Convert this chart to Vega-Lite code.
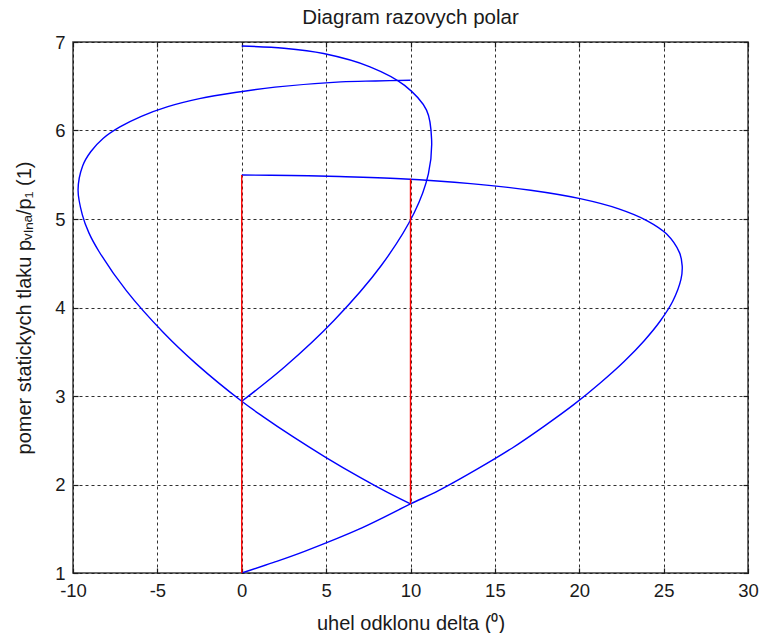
{
  "$schema": "https://vega.github.io/schema/vega-lite/v6.json",
  "width": 675,
  "height": 531,
  "autosize": {"type": "none"},
  "padding": {"left": 73, "top": 42, "right": 11, "bottom": 60},
  "background": "white",
  "config": {
    "font": "Liberation Sans",
    "view": {"stroke": "#3a3a3a", "strokeWidth": 1.5},
    "axis": {
      "labelFont": "Liberation Sans",
      "titleFont": "Liberation Sans",
      "labelColor": "#1a1a1a",
      "titleColor": "#1a1a1a",
      "labelFontSize": 18.5,
      "titleFontSize": 20,
      "titleFontWeight": "normal",
      "labelFlush": false,
      "labelOverlap": false,
      "domain": false,
      "ticks": true,
      "tickSize": -5,
      "tickColor": "#1a1a1a",
      "tickWidth": 1.2,
      "gridColor": "#1a1a1a",
      "gridDash": [3, 3],
      "gridWidth": 1,
      "gridOpacity": 0.9
    }
  },
  "title": {
    "text": "Diagram razovych polar",
    "font": "Liberation Sans",
    "fontSize": 20.5,
    "fontWeight": "normal",
    "color": "#1a1a1a",
    "anchor": "middle",
    "offset": 5
  },
  "data": {
    "values": [
      {"s": "p1", "i": 0, "x": 0, "y": 1},
      {"s": "p1", "i": 1, "x": 1.89, "y": 1.12},
      {"s": "p1", "i": 2, "x": 3.72, "y": 1.245},
      {"s": "p1", "i": 3, "x": 7.12, "y": 1.51},
      {"s": "p1", "i": 4, "x": 10, "y": 1.78},
      {"s": "p1", "i": 5, "x": 11.66, "y": 1.93},
      {"s": "p1", "i": 6, "x": 13.92, "y": 2.17},
      {"s": "p1", "i": 7, "x": 16.01, "y": 2.41},
      {"s": "p1", "i": 8, "x": 17.93, "y": 2.66},
      {"s": "p1", "i": 9, "x": 19.69, "y": 2.905},
      {"s": "p1", "i": 10, "x": 21.26, "y": 3.15},
      {"s": "p1", "i": 11, "x": 22.66, "y": 3.39},
      {"s": "p1", "i": 12, "x": 23.85, "y": 3.625},
      {"s": "p1", "i": 13, "x": 24.81, "y": 3.85},
      {"s": "p1", "i": 14, "x": 25.54, "y": 4.07},
      {"s": "p1", "i": 15, "x": 26.03, "y": 4.32},
      {"s": "p1", "i": 16, "x": 26.1, "y": 4.47},
      {"s": "p1", "i": 17, "x": 25.94, "y": 4.62},
      {"s": "p1", "i": 18, "x": 25.18, "y": 4.83},
      {"s": "p1", "i": 19, "x": 24.03, "y": 4.98},
      {"s": "p1", "i": 20, "x": 22.34, "y": 5.115},
      {"s": "p1", "i": 21, "x": 20.05, "y": 5.23},
      {"s": "p1", "i": 22, "x": 17.12, "y": 5.325},
      {"s": "p1", "i": 23, "x": 13.56, "y": 5.4},
      {"s": "p1", "i": 24, "x": 9.42, "y": 5.455},
      {"s": "p1", "i": 25, "x": 5.78, "y": 5.48},
      {"s": "p1", "i": 26, "x": 2.92, "y": 5.492},
      {"s": "p1", "i": 27, "x": 0, "y": 5.497},

      {"s": "p2", "i": 0, "x": 10, "y": 1.78},
      {"s": "p2", "i": 1, "x": 8.64, "y": 1.91},
      {"s": "p2", "i": 2, "x": 7.01, "y": 2.08},
      {"s": "p2", "i": 3, "x": 4.95, "y": 2.31},
      {"s": "p2", "i": 4, "x": 3.03, "y": 2.54},
      {"s": "p2", "i": 5, "x": 1.24, "y": 2.77},
      {"s": "p2", "i": 6, "x": 0, "y": 2.94},
      {"s": "p2", "i": 7, "x": -2.68, "y": 3.36},
      {"s": "p2", "i": 8, "x": -4.66, "y": 3.72},
      {"s": "p2", "i": 9, "x": -6.84, "y": 4.19},
      {"s": "p2", "i": 10, "x": -8.45, "y": 4.63},
      {"s": "p2", "i": 11, "x": -9.05, "y": 4.84},
      {"s": "p2", "i": 12, "x": -9.45, "y": 5.05},
      {"s": "p2", "i": 13, "x": -9.7, "y": 5.33},
      {"s": "p2", "i": 14, "x": -9.43, "y": 5.6},
      {"s": "p2", "i": 15, "x": -8.95, "y": 5.76},
      {"s": "p2", "i": 16, "x": -8.22, "y": 5.91},
      {"s": "p2", "i": 17, "x": -7.22, "y": 6.04},
      {"s": "p2", "i": 18, "x": -5.95, "y": 6.16},
      {"s": "p2", "i": 19, "x": -4.38, "y": 6.27},
      {"s": "p2", "i": 20, "x": -2.51, "y": 6.36},
      {"s": "p2", "i": 21, "x": -0.4, "y": 6.43},
      {"s": "p2", "i": 22, "x": 1.97, "y": 6.49},
      {"s": "p2", "i": 23, "x": 5.87, "y": 6.55},
      {"s": "p2", "i": 24, "x": 7.92, "y": 6.56},
      {"s": "p2", "i": 25, "x": 10, "y": 6.567},

      {"s": "p3", "i": 0, "x": 0, "y": 2.94},
      {"s": "p3", "i": 1, "x": 2.55, "y": 3.33},
      {"s": "p3", "i": 2, "x": 5.45, "y": 3.85},
      {"s": "p3", "i": 3, "x": 8.29, "y": 4.48},
      {"s": "p3", "i": 4, "x": 10.22, "y": 5.07},
      {"s": "p3", "i": 5, "x": 11.06, "y": 5.51},
      {"s": "p3", "i": 6, "x": 11.25, "y": 5.9},
      {"s": "p3", "i": 7, "x": 10.95, "y": 6.23},
      {"s": "p3", "i": 8, "x": 9.65, "y": 6.51},
      {"s": "p3", "i": 9, "x": 7.6, "y": 6.72},
      {"s": "p3", "i": 10, "x": 4.85, "y": 6.87},
      {"s": "p3", "i": 11, "x": 2.5, "y": 6.93},
      {"s": "p3", "i": 12, "x": 0, "y": 6.955},

      {"s": "r0", "i": 0, "x": 0, "y": 1},
      {"s": "r0", "i": 1, "x": 0, "y": 5.497},
      {"s": "r10", "i": 0, "x": 10, "y": 1.78},
      {"s": "r10", "i": 1, "x": 10, "y": 5.455}
    ]
  },
  "layer": [
    {
      "mark": {"type": "line", "interpolate": "catmull-rom", "strokeWidth": 1.4, "clip": true},
      "encoding": {
        "x": {
          "field": "x",
          "type": "quantitative",
          "scale": {"domain": [-10, 30], "nice": false, "zero": false},
          "axis": {
            "orient": "bottom",
            "grid": true,
            "values": [-10, -5, 0, 5, 10, 15, 20, 25, 30],
            "labelExpr": "'' + datum.value",
            "labelPadding": 13,
            "titlePadding": 14,
            "title": "uhel odklonu delta (⁰)"
          }
        },
        "y": {
          "field": "y",
          "type": "quantitative",
          "scale": {"domain": [1, 7], "nice": false, "zero": false},
          "axis": {
            "orient": "left",
            "grid": true,
            "values": [1, 2, 3, 4, 5, 6, 7],
            "labelExpr": "'' + datum.value",
            "labelPadding": 13,
            "titlePadding": 20,
            "title": "pomer statickych tlaku pᵥₗₙₐ/p₁ (1)"
          }
        },
        "detail": {"field": "s"},
        "order": {"field": "i", "type": "quantitative"},
        "color": {
          "field": "s",
          "type": "nominal",
          "scale": {
            "domain": ["p1", "p2", "p3", "r0", "r10"],
            "range": ["#0000ff", "#0000ff", "#0000ff", "#ff0000", "#ff0000"]
          },
          "legend": null
        }
      }
    },
    {
      "mark": {"type": "line", "opacity": 0, "clip": true},
      "encoding": {
        "x": {
          "field": "x",
          "type": "quantitative",
          "axis": {
            "orient": "top",
            "grid": false,
            "labels": false,
            "title": null,
            "values": [-10, -5, 0, 5, 10, 15, 20, 25, 30]
          }
        },
        "y": {
          "field": "y",
          "type": "quantitative",
          "axis": {
            "orient": "right",
            "grid": false,
            "labels": false,
            "title": null,
            "values": [1, 2, 3, 4, 5, 6, 7]
          }
        },
        "detail": {"field": "s"},
        "order": {"field": "i", "type": "quantitative"}
      }
    }
  ],
  "resolve": {"axis": {"x": "independent", "y": "independent"}}
}
